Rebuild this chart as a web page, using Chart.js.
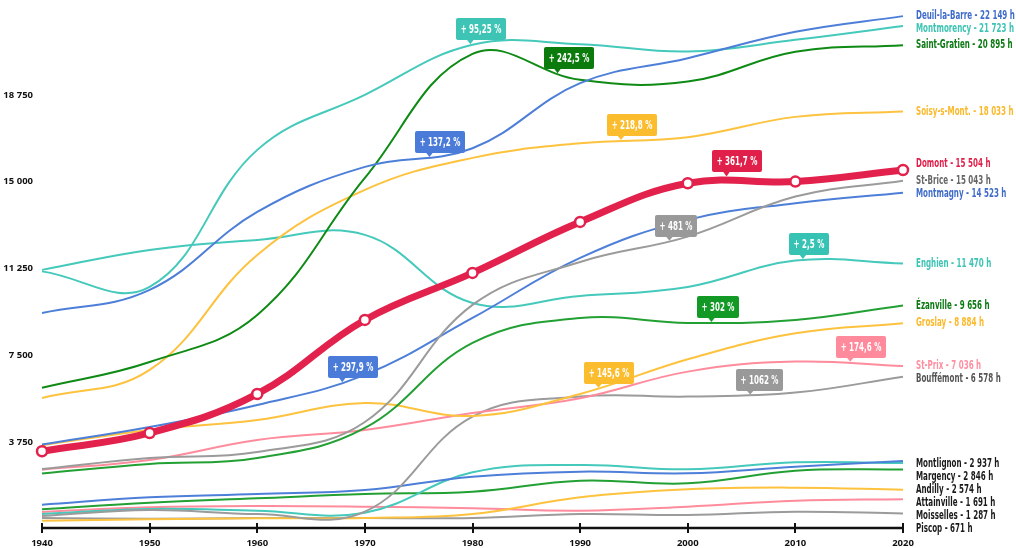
<!DOCTYPE html>
<html>
<head>
<meta charset="utf-8">
<script src="https://cdn.jsdelivr.net/npm/chart.js@4"></script>
<style>
  html, body { margin: 0; padding: 0; background: #fff; }
  #wrap { width: 1016px; height: 548px; }
</style>
</head>
<body>
<div id="wrap"><canvas id="popChart" width="1016" height="548"></canvas></div>
<script>
// Population by decade
const years = [1940, 1950, 1960, 1970, 1980, 1990, 2000, 2010, 2020];

const domont       = [3358, 4147, 5832, 9029, 11059, 13262, 14933, 15004, 15504];
const deuilLaBarre = [9331, 10325, 13694, 15638, 16445, 19253, 20333, 21470, 22149];
const montmorency  = [11126, 10454, 16373, 18749, 20909, 20938, 20620, 21125, 21723];
const saintGratien = [6101, 7214, 9245, 15163, 20520, 19397, 19324, 20606, 20895];
const soisy        = [5657, 6869, 11837, 14645, 16027, 16661, 16920, 17798, 18033];
const stBrice      = [2589, 3067, 3326, 4622, 9677, 11534, 12628, 14356, 15043];
const montmagny    = [3650, 4406, 5357, 6653, 9115, 11707, 13349, 14070, 14523];
const enghien      = [11190, 12053, 12485, 12701, 9763, 10066, 10454, 11591, 11470];
const ezanville    = [2402, 2808, 3067, 4363, 8035, 9115, 8899, 9029, 9656];
const groslay      = [3617, 4277, 4709, 5443, 4882, 5832, 7330, 8453, 8884];
const stPrix       = [2562, 2981, 3845, 4277, 5011, 5645, 6797, 7229, 7036];
const bouffemont   = [566, 821, 648, 749, 4853, 5717, 5717, 5890, 6578];
const montlignon   = [1050, 1369, 1512, 1685, 2261, 2477, 2405, 2693, 2937];
const margency     = [648, 864, 792, 705, 2448, 2765, 2578, 2880, 2846];
const andilly      = [850, 1137, 1325, 1512, 1613, 2088, 1973, 2520, 2574];
const attainville  = [360, 418, 461, 475, 648, 1369, 1713, 1786, 1691];
const moisselles   = [734, 936, 994, 965, 893, 792, 965, 1224, 1287];
const piscop       = [475, 440, 470, 475, 475, 648, 605, 749, 671];

const yTicks = [3750, 7500, 11250, 15000, 18750];

// growth callouts: town, year where the pointer sits, text
const callouts = [
  ['Montmorency', 1979.8, '+ 95,25 %'],
  ['Saint-Gratien', 1987.9, '+ 242,5 %'],
  ['Deuil-la-Barre', 1976.0, '+ 137,2 %'],
  ['Soisy-s-Mont.', 1993.8, '+ 218,8 %'],
  ['Montmagny', 1967.9, '+ 297,9 %'],
  ['Groslay', 1991.7, '+ 145,6 %'],
  ['Domont', 2003.6, '+ 361,7 %'],
  ['St-Brice', 1998.3, '+ 481 %'],
  ['Enghien', 2010.7, '+ 2,5 %'],
  ['Ézanville', 2002.2, '+ 302 %'],
  ['St-Prix', 2015.1, '+ 174,6 %'],
  ['Bouffémont', 2005.8, '+ 1062 %']
];

const BLUE = '#4d7fd9', TEAL = '#45c9bb', DKGREEN = '#0e8a15', GREEN = '#23a034',
      YELLOW = '#fdc23e', PINK = '#ff8c9d', GRAY = '#9b9b9b', RED = '#e2214c';

const towns = [
  { name: 'Domont', data: domont, color: RED, text: '#e0204a', box: '#e0204a', width: 7, labelShift: -6 },
  { name: 'Deuil-la-Barre', data: deuilLaBarre, color: BLUE, text: '#3f6cc9', box: '#4a7bd8' },
  { name: 'Montmorency', data: montmorency, color: TEAL, text: '#3cc4b4', box: '#3dc4b5' },
  { name: 'Saint-Gratien', data: saintGratien, color: DKGREEN, text: '#0b7a12', box: '#0a7b0c' },
  { name: 'Soisy-s-Mont.', data: soisy, color: YELLOW, text: '#fbb92a', box: '#fbbc2d' },
  { name: 'St-Brice', data: stBrice, color: GRAY, text: '#666666', box: '#999999' },
  { name: 'Montmagny', data: montmagny, color: BLUE, text: '#3f6cc9', box: '#4a7bd8' },
  { name: 'Enghien', data: enghien, color: TEAL, text: '#3cc4b4', box: '#37c3b4' },
  { name: 'Ézanville', data: ezanville, color: GREEN, text: '#0b7a12', box: '#139a26' },
  { name: 'Groslay', data: groslay, color: YELLOW, text: '#fbb92a', box: '#fbbc2d' },
  { name: 'St-Prix', data: stPrix, color: PINK, text: '#ff8fa0', box: '#ff8a9c' },
  { name: 'Bouffémont', data: bouffemont, color: GRAY, text: '#555555', box: '#999999' },
  { name: 'Montlignon', data: montlignon, color: BLUE, text: '#1a1a1a', labelShift: 3 },
  { name: 'Margency', data: margency, color: TEAL, text: '#1a1a1a' },
  { name: 'Andilly', data: andilly, color: GREEN, text: '#1a1a1a' },
  { name: 'Attainville', data: attainville, color: YELLOW, text: '#1a1a1a' },
  { name: 'Moisselles', data: moisselles, color: PINK, text: '#1a1a1a' },
  { name: 'Piscop', data: piscop, color: GRAY, text: '#1a1a1a' }
];

const LABEL_FONT = 'bold 12px "DejaVu Sans", sans-serif';
const TICK_FONT = { family: '"Open Sans", sans-serif', size: 9.5, weight: 'bold' };

function fmt(n) {
  return String(n).replace(/\B(?=(\d{3})+(?!\d))/g, ' ');
}

// narrow, condensed-looking text: squeeze the glyphs horizontally
let squeeze = 1;
function narrowText(ctx, txt, x, y) {
  ctx.save();
  ctx.translate(x, y);
  ctx.scale(squeeze, 1);
  ctx.fillText(txt, 0, 0);
  ctx.restore();
}

// y on the drawn bezier at a given pixel x
function yOnLine(meta, px) {
  const pts = meta.data;
  for (let i = 0; i < pts.length - 1; i++) {
    const a = pts[i], b = pts[i + 1];
    if (px < a.x || px > b.x) continue;
    const bez = (t, p0, p1, p2, p3) => {
      const u = 1 - t;
      return u * u * u * p0 + 3 * u * u * t * p1 + 3 * u * t * t * p2 + t * t * t * p3;
    };
    let lo = 0, hi = 1;
    for (let k = 0; k < 40; k++) {
      const mid = (lo + hi) / 2;
      if (bez(mid, a.x, a.cp2x, b.cp1x, b.x) < px) lo = mid; else hi = mid;
    }
    return bez((lo + hi) / 2, a.y, a.cp2y, b.cp1y, b.y);
  }
  return pts[pts.length - 1].y;
}

const overlayPlugin = {
  id: 'overlay',
  afterDatasetsDraw(chart) {
    const ctx = chart.ctx;
    const xs = chart.scales.x;
    const area = chart.chartArea;

    ctx.save();
    ctx.font = LABEL_FONT;
    squeeze = 98 / ctx.measureText('Montmorency - 21 723 h').width;
    ctx.restore();

    // x axis with bar ticks
    const axisY = area.bottom - 1;
    ctx.save();
    ctx.strokeStyle = '#111';
    ctx.lineWidth = 2.5;
    ctx.beginPath();
    ctx.moveTo(xs.getPixelForValue(years[0]), axisY);
    ctx.lineTo(xs.getPixelForValue(years[years.length - 1]), axisY);
    ctx.stroke();
    ctx.lineWidth = 2;
    years.forEach(yr => {
      const px = Math.round(xs.getPixelForValue(yr));
      ctx.beginPath();
      ctx.moveTo(px, axisY - 5);
      ctx.lineTo(px, axisY + 5);
      ctx.stroke();
    });
    ctx.restore();

    // end labels, ordered by final value then pushed apart
    const labels = towns.map((t, i) => {
      const meta = chart.getDatasetMeta(i);
      const last = meta.data[meta.data.length - 1];
      return { t, v: t.data[t.data.length - 1], y: last.y + (t.labelShift || 0) };
    }).sort((a, b) => b.v - a.v);
    for (let i = 1; i < labels.length; i++) {
      if (labels[i].y < labels[i - 1].y + 13) labels[i].y = labels[i - 1].y + 13;
    }
    ctx.save();
    ctx.font = LABEL_FONT;
    ctx.textBaseline = 'middle';
    ctx.textAlign = 'left';
    labels.forEach(l => {
      ctx.fillStyle = l.t.text;
      narrowText(ctx, l.t.name + ' - ' + fmt(l.v) + ' h', area.right + 13, l.y);
    });
    ctx.restore();

    // growth callouts
    ctx.save();
    ctx.font = LABEL_FONT;
    ctx.textBaseline = 'middle';
    ctx.textAlign = 'center';
    callouts.forEach(([name, yr, txt]) => {
      const idx = towns.findIndex(t => t.name === name);
      const t = towns[idx];
      const meta = chart.getDatasetMeta(idx);
      const px = xs.getPixelForValue(yr);
      const tip = yOnLine(meta, px) - (t.width || 2) / 2;
      const w = Math.round(ctx.measureText(txt).width * squeeze + 9);
      const h = 22;
      const bx = Math.round(px - 14), by = Math.round(tip - 4 - h);
      ctx.fillStyle = t.box;
      ctx.beginPath();
      ctx.roundRect(bx, by, w, h, 2);
      ctx.fill();
      ctx.beginPath();
      ctx.moveTo(px - 3.5, by + h - 0.5);
      ctx.lineTo(px + 3.5, by + h - 0.5);
      ctx.lineTo(px, tip);
      ctx.closePath();
      ctx.fill();
      ctx.fillStyle = '#fff';
      narrowText(ctx, txt, bx + w / 2, by + h / 2 + 0.5);
    });
    ctx.restore();
  }
};

const datasets = towns.map(t => ({
  label: t.name,
  data: years.map((yr, i) => ({ x: yr, y: t.data[i] })),
  borderColor: t.color,
  borderWidth: t.width || 2,
  tension: 0.4,
  fill: false,
  clip: false,
  order: t.name === 'Domont' ? 0 : 1,
  pointRadius: t.name === 'Domont' ? 5 : 0,
  pointBorderWidth: 2.5,
  pointBackgroundColor: '#fff',
  pointBorderColor: t.color
}));

new Chart(document.getElementById('popChart').getContext('2d'), {
  type: 'line',
  data: { datasets },
  options: {
    responsive: false,
    animation: false,
    events: [],
    layout: { padding: { top: 8, right: 113, left: 0, bottom: 0 } },
    plugins: { legend: { display: false }, tooltip: { enabled: false } },
    scales: {
      x: {
        type: 'linear',
        min: 1940,
        max: 2020,
        afterFit: s => { s.height = 19; s.paddingLeft = 0; s.paddingRight = 0; },
        afterBuildTicks: s => { s.ticks = years.map(v => ({ value: v })); },
        grid: { display: false, drawTicks: false },
        border: { display: false },
        ticks: { font: TICK_FONT, color: '#111', padding: 9, maxRotation: 0, callback: v => String(v) }
      },
      y: {
        min: 0,
        max: 22500,
        afterFit: s => { s.width = 42; s.paddingTop = 0; s.paddingBottom = 0; },
        afterBuildTicks: s => { s.ticks = yTicks.map(v => ({ value: v })); },
        grid: { display: false, drawTicks: false },
        border: { display: false },
        ticks: { font: TICK_FONT, color: '#111', padding: 9, callback: v => fmt(v) }
      }
    }
  },
  plugins: [overlayPlugin]
});
</script>
</body>
</html>
